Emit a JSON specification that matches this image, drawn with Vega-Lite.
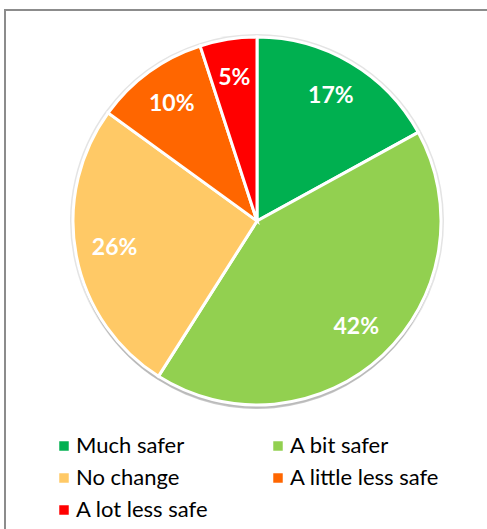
{
  "$schema": "https://vega.github.io/schema/vega-lite/v6.json",
  "width": 485,
  "height": 522,
  "autosize": "none",
  "padding": {"left": 5, "top": 10, "right": -3, "bottom": -3},
  "background": "white",
  "config": {"view": {"stroke": "#8c8c8c", "strokeWidth": 2}},
  "data": {
    "values": [
      {"category": "Much safer", "value": 17, "label": "17%", "rank": 1},
      {"category": "A bit safer", "value": 42, "label": "42%", "rank": 2},
      {"category": "No change", "value": 26, "label": "26%", "rank": 3},
      {"category": "A little less safe", "value": 10, "label": "10%", "rank": 4},
      {"category": "A lot less safe", "value": 5, "label": "5%", "rank": 5}
    ]
  },
  "encoding": {
    "theta": {"field": "value", "type": "quantitative", "stack": true},
    "order": {"field": "rank", "type": "ordinal"},
    "x": {"datum": 0.5196, "type": "quantitative", "scale": {"domain": [0, 1]}, "axis": null},
    "y": {"datum": 0.4042, "type": "quantitative", "scale": {"domain": [0, 1], "reverse": true}, "axis": null}
  },
  "layer": [
    {
      "mark": {"type": "arc", "outerRadius": 187, "fill": "#e4e4e4", "stroke": null}
    },
    {
      "mark": {"type": "arc", "outerRadius": 184, "fill": "#8f8f8f", "opacity": 0.5, "stroke": null},
      "encoding": {
        "y": {"datum": 0.4119, "type": "quantitative"}
      }
    },
    {
      "mark": {"type": "arc", "outerRadius": 184, "stroke": "white", "strokeWidth": 3},
      "encoding": {
        "color": {
          "field": "category",
          "type": "nominal",
          "scale": {
            "domain": ["Much safer", "A bit safer", "No change", "A little less safe", "A lot less safe"],
            "range": ["#00B050", "#92D050", "#FFC966", "#FF6600", "#FF0000"]
          },
          "legend": {
            "orient": "none",
            "legendX": 48,
            "legendY": 425,
            "columns": 2,
            "columnPadding": 58,
            "rowPadding": 10,
            "values": ["Much safer", "No change", "A lot less safe", "A bit safer", "A little less safe"],
            "symbolType": "square",
            "symbolSize": 90,
            "symbolStrokeWidth": 0,
            "labelFont": "Lato",
            "labelFontSize": 22,
            "labelColor": "black",
            "labelOffset": 1,
            "labelLimit": 300,
            "title": null
          }
        }
      }
    },
    {
      "mark": {"type": "text", "radius": 145, "fill": "white", "font": "Lato", "fontWeight": "bold", "fontSize": 23},
      "encoding": {"text": {"field": "label"}}
    }
  ]
}
